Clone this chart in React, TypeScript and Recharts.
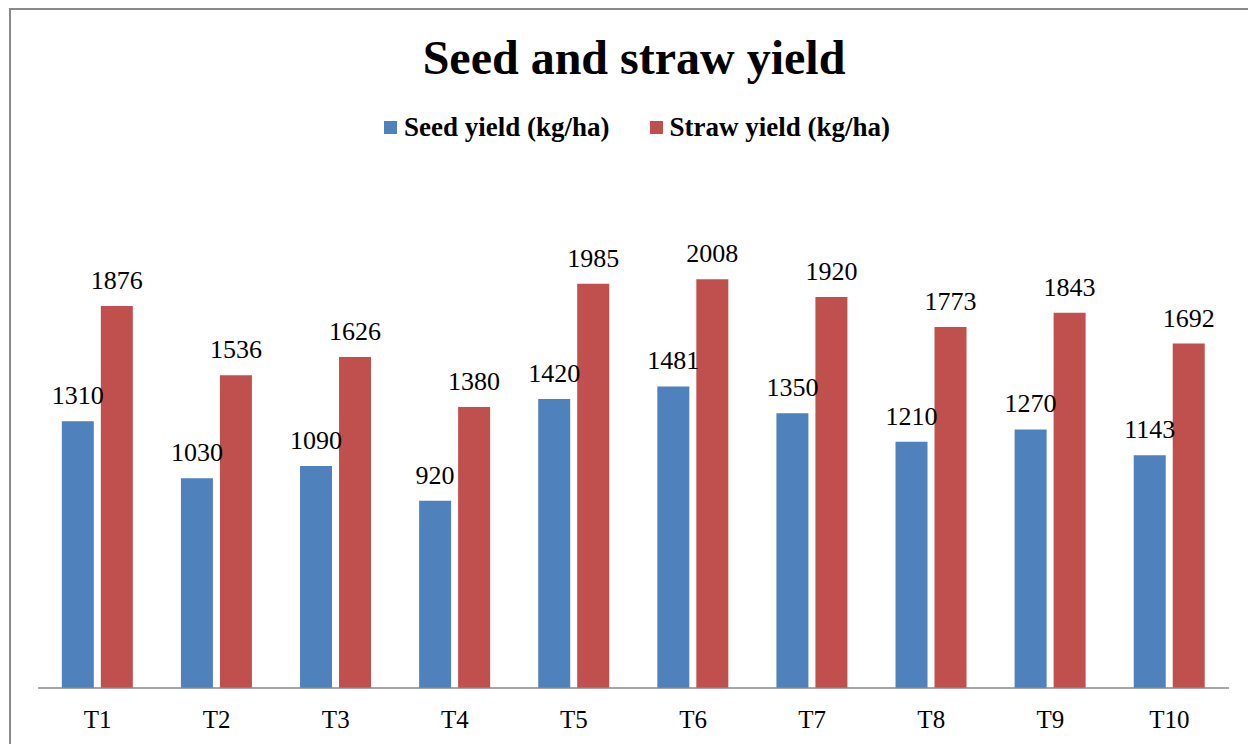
import React from 'react';
import { BarChart, Bar, XAxis, YAxis, Legend, LabelList } from 'recharts';

const treatments = ['T1', 'T2', 'T3', 'T4', 'T5', 'T6', 'T7', 'T8', 'T9', 'T10'];
const seedYield = [1310, 1030, 1090, 920, 1420, 1481, 1350, 1210, 1270, 1143];
const strawYield = [1876, 1536, 1626, 1380, 1985, 2008, 1920, 1773, 1843, 1692];

const data = treatments.map((t, i) => ({ name: t, seed: seedYield[i], straw: strawYield[i] }));

const serif = '"Liberation Serif", "Times New Roman", serif';

function LegendBox() {
  const items = [
    { label: 'Seed yield (kg/ha)', color: '#4F81BD' },
    { label: 'Straw yield (kg/ha)', color: '#C0504D' },
  ];
  return (
    <div style={{ display: 'flex', justifyContent: 'center', gap: 40, fontFamily: serif, fontWeight: 'bold', fontSize: 27, color: '#000', paddingLeft: 26, height: 25, lineHeight: '25px' }}>
      {items.map(it => (
        <div key={it.label} style={{ display: 'flex', alignItems: 'center' }}>
          <span style={{ display: 'inline-block', width: 13, height: 13, background: it.color, marginRight: 7 }} />
          <span>{it.label}</span>
        </div>
      ))}
    </div>
  );
}

const ValueLabel = (props: any) => {
  const { x, y, width, value } = props;
  return (
    <text x={x + width / 2} y={y - 17} textAnchor="middle" fontFamily={serif} fontSize={26} fill="#000">
      {value}
    </text>
  );
};

export default function App() {
  return (
    <div style={{ position: 'absolute', left: 0, top: 0, width: 1248, height: 744, background: '#fff', overflow: 'hidden' }}>
      <div style={{ position: 'absolute', left: 9, top: 8, width: 1400, height: 900, border: '2px solid #8a8a8a' }} />
      <div style={{ position: 'absolute', left: 0, top: 30, width: 1268, textAlign: 'center', fontFamily: serif, fontWeight: 'bold', fontSize: 48, color: '#000' }}>
        Seed and straw yield
      </div>
      <div style={{ position: 'absolute', left: 0, top: 0 }}>
        <BarChart width={1248} height={744} data={data} margin={{ top: 154, right: 19, left: 38, bottom: 0 }} barCategoryGap="20%" barGap={7}>
          <XAxis dataKey="name" height={56} axisLine={{ stroke: '#888', strokeWidth: 1.5 }} tickLine={false}
            tick={{ fontFamily: serif, fontSize: 25, fill: '#000' }} dy={14} />
          <YAxis hide domain={[0, 2500]} />
          <Legend verticalAlign="top" content={() => <LegendBox />} wrapperStyle={{ top: 115, left: 0, width: 1248 }} />
          <Bar dataKey="seed" name="Seed yield (kg/ha)" fill="#4F81BD" isAnimationActive={false}>
            <LabelList dataKey="seed" content={ValueLabel} />
          </Bar>
          <Bar dataKey="straw" name="Straw yield (kg/ha)" fill="#C0504D" isAnimationActive={false}>
            <LabelList dataKey="straw" content={ValueLabel} />
          </Bar>
        </BarChart>
      </div>
    </div>
  );
}
